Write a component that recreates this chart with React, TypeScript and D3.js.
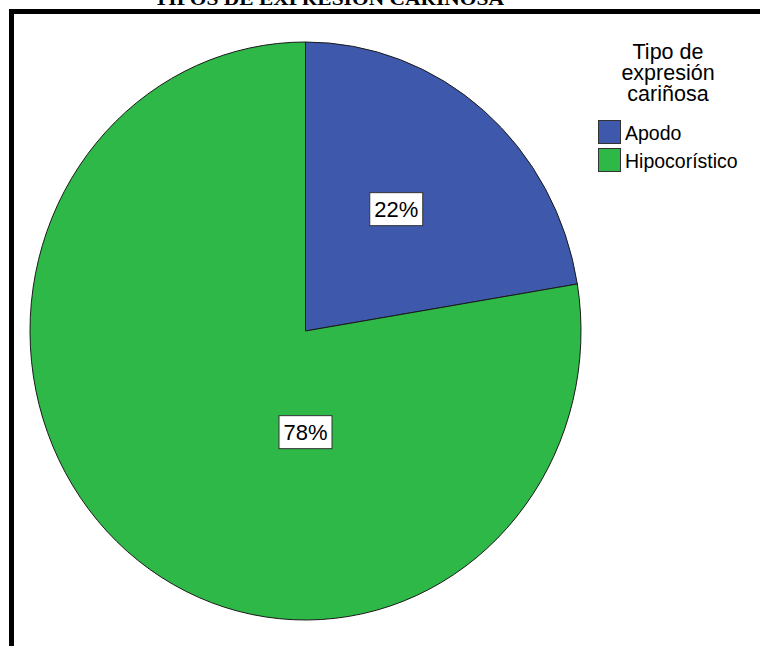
import React from "react";
import * as d3 from "d3";

const chartTitle = "TIPOS DE EXPRESIÓN CARIÑOSA";
const legendTitle = ["Tipo de", "expresión", "cariñosa"];
const categories = ["Apodo", "Hipocorístico"];
const values = [22.4, 77.6];
const colors = ["#3e58ac", "#2eb848"];
// label anchor: angle (deg, clockwise from north) and fraction of radius
const labelAngles = [38, 180];
const labelRadii = [0.535, 0.35];

export default function App() {
  const W = 760;
  const H = 646;
  const cx = 305.5;
  const cy = 331;
  const r = 275.5;
  const sy = 289 / 275.5;

  const pie = d3
    .pie<number>()
    .sort(null)
    .value((d) => d)
    .startAngle(0)
    .endAngle(2 * Math.PI);
  const arcs = pie(values);
  const arc = d3.arc<d3.PieArcDatum<number>>().innerRadius(0).outerRadius(r);
  const total = d3.sum(values);

  return (
    <svg
      width={W}
      height={H}
      style={{ position: "absolute", left: 0, top: 0, background: "#fff" }}
      fontFamily="'Liberation Sans', Arial, sans-serif"
    >
      <rect x={0} y={0} width={W} height={H} fill="#fff" />
      <text
        x={329}
        y={4.5}
        textAnchor="middle"
        fontFamily="'Liberation Serif', 'Times New Roman', serif"
        fontWeight="bold"
        fontSize={19}
        textLength={350}
        lengthAdjust="spacingAndGlyphs"
        fill="#000"
      >
        {chartTitle}
      </text>
      <rect
        x={11.5}
        y={11.5}
        width={W + 20}
        height={H + 20}
        fill="none"
        stroke="#000"
        strokeWidth={5}
      />
      <g transform={`translate(${cx},${cy}) scale(1,${sy})`}>
        {arcs.map((a, i) => (
          <path
            key={categories[i]}
            d={arc(a) || ""}
            fill={colors[i]}
            stroke="#1a1a1a"
            strokeWidth={1}
            vectorEffect="non-scaling-stroke"
          />
        ))}
      </g>
      {arcs.map((a, i) => {
        const ang = (labelAngles[i] * Math.PI) / 180;
        const rr = r * labelRadii[i];
        const lx = cx + Math.sin(ang) * rr;
        const ly = cy - Math.cos(ang) * rr * sy;
        const txt = `${Math.round((values[i] / total) * 100)}%`;
        return (
          <g key={"lab" + i} transform={`translate(${lx},${ly})`}>
            <rect
              x={-26.5}
              y={-16.5}
              width={53}
              height={33}
              fill="#fff"
              stroke="#333"
              strokeWidth={1}
            />
            <text
              x={0}
              y={8}
              textAnchor="middle"
              fontSize={22}
              fill="#000"
            >
              {txt}
            </text>
          </g>
        );
      })}
      <g>
        {legendTitle.map((t, i) => (
          <text
            key={t}
            x={668}
            y={58.5 + i * 21}
            textAnchor="middle"
            fontSize={21.5}
            fill="#000"
          >
            {t}
          </text>
        ))}
        {categories.map((c, i) => (
          <g key={c} transform={`translate(598,${120 + i * 28})`}>
            <rect
              x={0.5}
              y={0.5}
              width={22}
              height={23}
              fill={colors[i]}
              stroke="#333"
              strokeWidth={1}
            />
            <text x={27} y={19.5} fontSize={19.5} fill="#000">
              {c}
            </text>
          </g>
        ))}
      </g>
    </svg>
  );
}
